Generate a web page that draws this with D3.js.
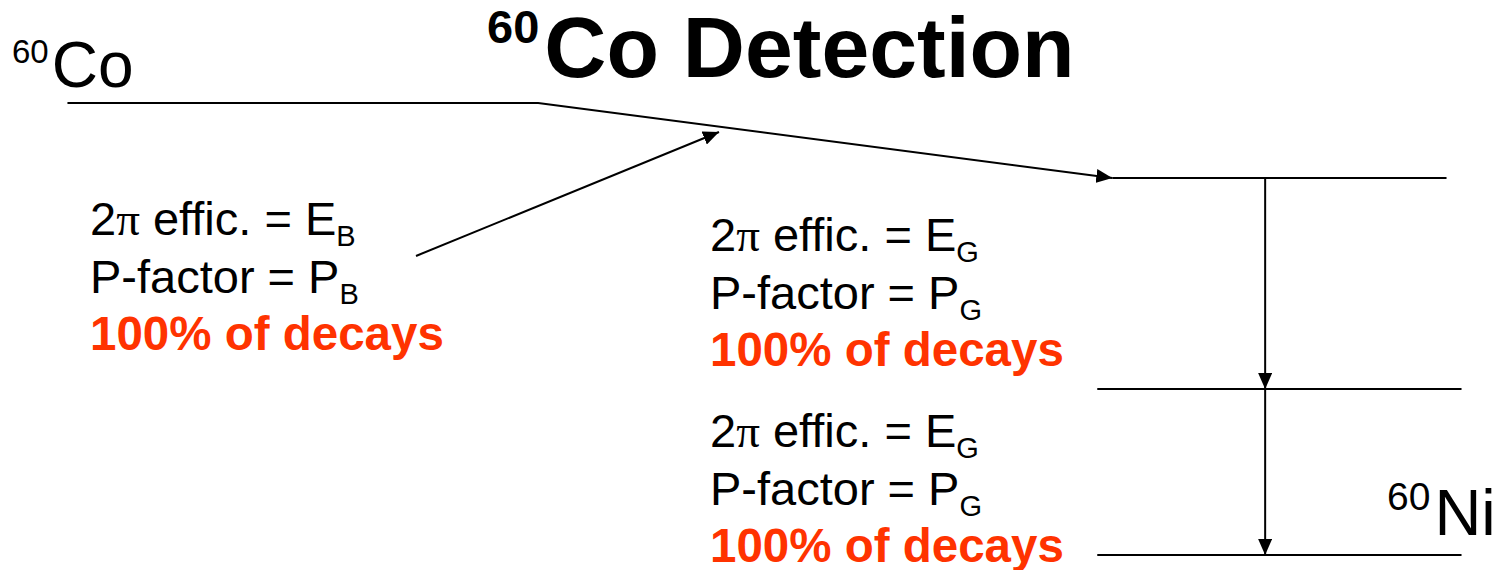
<!DOCTYPE html>
<html><head><meta charset="utf-8">
<script src="https://cdn.jsdelivr.net/npm/d3@7"></script>
<style>
body{margin:0;background:#fff;overflow:hidden}
svg{display:block}
text{font-family:"Liberation Sans",Arial,Helvetica,sans-serif}
</style>
</head><body>
<svg id="c" width="1499" height="570"></svg>
<script>
// ---- data (diagram units) ----
const levelNames   = ["60Co", "60Ni*2", "60Ni*1", "60Ni"];
const levelValues  = [100, 83.4, 36.7, 0];          // vertical position in diagram units
const levelStarts  = [4.5, 74.2, 73.2, 73.2];        // horizontal extent, diagram units
const levelEnds    = [35.9, 96.5, 97.5, 97.5];
const gammaFrom    = [1, 2];                         // level index pairs for gamma transitions
const gammaTo      = [2, 3];
const gammaX       = 84.4;
const titleSup     = "60";
const titleMain    = "Co Detection";
const blockLine1   = ["effic. = E", "effic. = E", "effic. = E"];
const blockLine2   = ["P-factor = P", "P-factor = P", "P-factor = P"];
const blockSubs    = ["B", "G", "G"];
const blockLine3   = ["100% of decays", "100% of decays", "100% of decays"];

const W = 1499, H = 570;
const svg = d3.select("#c");
const x = d3.scaleLinear().domain([0, 100]).range([0, W]);
const y = d3.scaleLinear().domain([0, 100]).range([555, 103]);

const defs = svg.append("defs");
defs.append("marker").attr("id","ah").attr("markerUnits","userSpaceOnUse")
  .attr("viewBox","0 0 16 14").attr("refX",16).attr("refY",7)
  .attr("markerWidth",16).attr("markerHeight",14).attr("orient","auto")
  .append("path").attr("d","M0,0 L16,7 L0,14 Z").attr("fill","#000");

const g = svg.append("g").attr("stroke","#000").attr("stroke-width",2).attr("fill","none");

// parent level + beta transition
const bendX = 35.9;
g.append("path")
  .attr("d", d3.line()([[x(levelStarts[0]), y(levelValues[0])],[x(bendX), y(levelValues[0])],[x(levelStarts[1]), y(levelValues[1])]]))
  .attr("marker-end","url(#ah)");

// daughter levels
[1,2,3].forEach(i=>{
  g.append("line").attr("x1",x(levelStarts[i])).attr("x2",x(levelEnds[i]))
   .attr("y1",y(levelValues[i])).attr("y2",y(levelValues[i]));
});

// gamma transitions
gammaFrom.forEach((f,k)=>{
  g.append("line").attr("x1",x(gammaX)).attr("x2",x(gammaX))
   .attr("y1",y(levelValues[f])).attr("y2",y(levelValues[gammaTo[k]]))
   .attr("marker-end","url(#ah)");
});

// pointer arrow to beta branch
g.append("line").attr("x1",416).attr("y1",256).attr("x2",719).attr("y2",132)
  .attr("stroke-width",2).attr("marker-end","url(#ah)");

// title
const t = svg.append("text").attr("x",487).attr("y",77).attr("font-weight","bold").attr("fill","#000");
t.append("tspan").attr("font-size",47).attr("dy",-34).text(titleSup);
t.append("tspan").attr("font-size",86).attr("dy",34).attr("dx",5).text(titleMain);

// level labels
const lc = svg.append("text").attr("x",12).attr("y",87).attr("fill","#000");
lc.append("tspan").attr("font-size",33).attr("dy",-24).text("60");
lc.append("tspan").attr("font-size",64).attr("dy",24).attr("dx",3).text("Co");

const ln = svg.append("text").attr("x",1387).attr("y",535).attr("fill","#000");
ln.append("tspan").attr("font-size",39).attr("dy",-25).text("60");
ln.append("tspan").attr("font-size",65).attr("dy",25).attr("dx",4).text("Ni");

// text blocks
const bx = [90, 710, 710];
const by = [235, 251, 447];
const gap = 57.5;
bx.forEach((bxi,i)=>{
  const a = svg.append("text").attr("x",bxi).attr("y",by[i]).attr("font-size",47).attr("fill","#000");
  a.append("tspan").text("2");
  a.append("tspan").attr("font-family","'Liberation Serif','DejaVu Serif',serif").text("π");
  a.append("tspan").text(" " + blockLine1[i]);
  a.append("tspan").attr("font-size",29).attr("dy",11).text(blockSubs[i]);
  const b = svg.append("text").attr("x",bxi).attr("y",by[i]+gap).attr("font-size",47).attr("fill","#000");
  b.append("tspan").text(blockLine2[i]);
  b.append("tspan").attr("font-size",29).attr("dy",11).text(blockSubs[i]);
  svg.append("text").attr("x",bxi).attr("y",by[i]+2*gap).attr("font-size",47.5)
    .attr("font-weight","bold").attr("fill","#FF3300").text(blockLine3[i]);
});
</script>
</body></html>
